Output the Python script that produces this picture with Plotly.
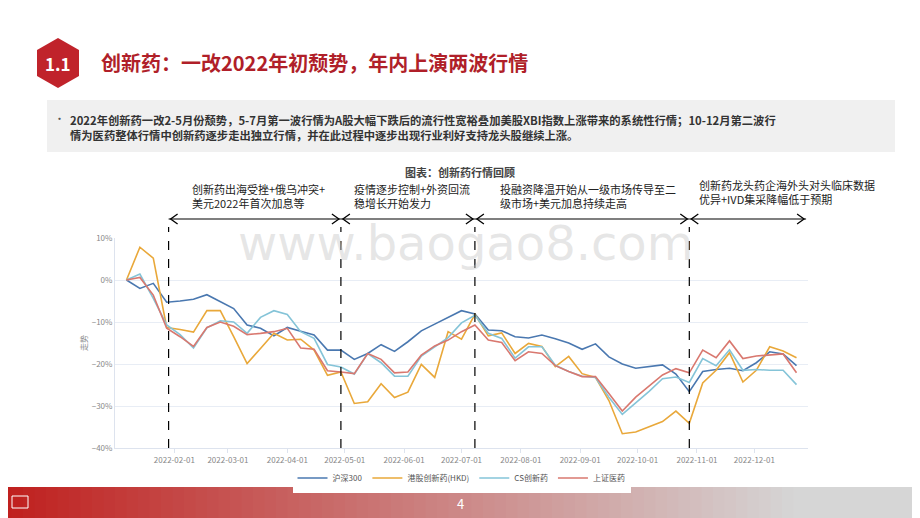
import plotly.graph_objects as go
import pandas as pd

dates = pd.date_range("2022-01-07", periods=51, freq="7D")
hs300 = [0,-2,-0.8,-5.3,-5,-4.6,-3.5,-5.2,-6.8,-10.7,-11.5,-13.3,-11.3,-12.2,-13.1,-16.7,-16.7,-18.9,-17.5,-15.4,-17,-14.7,-12.1,-10.5,-8.9,-7.3,
         -8.1,-11.9,-12.1,-13.5,-13.8,-13.1,-14,-15,-16.5,-15.2,-18.3,-20,-21,-20.6,-20.2,-22.4,-26.6,-21.8,-21.3,-21,-21.6,-19.7,-17.1,-17.6,-20.4]
hk_inno = [0,7.8,5.2,-11.3,-11.8,-12.4,-7.3,-7.3,-13.5,-19.9,-16.3,-12.7,-14.3,-14.1,-16.7,-22.7,-21.9,-29.4,-29,-24.7,-28,-26.7,-20.1,-23.2,-12.3,-14.1,
           -8.2,-13.3,-12.6,-17.5,-15.1,-15.8,-20.6,-18.2,-22.3,-23.2,-28.7,-36.6,-36.2,-35,-33.7,-31.2,-34.1,-24.5,-21.5,-17.3,-24.3,-21.5,-15.9,-16.9,-18.5]
cs_inno = [0,1.4,-4.4,-10.7,-13,-16.2,-11.4,-9.7,-10,-12.7,-8.9,-7.3,-8.2,-12.3,-13.9,-20.1,-20.7,-22.4,-17.5,-19.7,-22.9,-22.9,-18.1,-15.8,-13.7,-10.2,
           -8.4,-12.7,-13.9,-18.6,-15.9,-15.9,-20.3,-21.8,-22.9,-23.2,-27.9,-32,-29.3,-26.5,-23.5,-23.1,-24.4,-18.7,-20.4,-16.6,-21.5,-21.3,-21.5,-21.5,-24.9]
sh_med = [0,0.6,-3.6,-11.5,-13.5,-15.8,-11.3,-10,-11,-13,-12.7,-12.3,-11.5,-16.2,-16.5,-21.6,-21.9,-22.3,-17.5,-18.9,-22.1,-21.9,-17.9,-15.7,-14.3,-12.3,
          -10.7,-14.3,-14.9,-19.2,-17.1,-17.5,-20.4,-21.8,-23,-23,-27,-31.2,-27.9,-25.2,-22.6,-21.1,-22.1,-16.7,-18.5,-14.5,-18.7,-18.1,-17.9,-17.6,-22.1]
names = ["沪深300", "港股创新药(HKD)", "CS创新药", "上证医药"]
colors = ["#4a78b0", "#e9a83a", "#85c4d8", "#d9786f"]
event_dates = ["2022-01-29", "2022-04-29", "2022-07-08", "2022-10-28"]
event_texts = ["创新药出海受挫+俄乌冲突+<br>美元2022年首次加息等",
               "疫情逐步控制+外资回流<br>稳增长开始发力",
               "投融资降温开始从一级市场传导至二<br>级市场+美元加息持续走高",
               "创新药龙头药企海外头对头临床数据<br>优异+IVD集采降幅低于预期"]
event_text_x = [190, 352, 498, 697]
event_text_y = [196, 196, 196, 192]

OFF = 8  # page body offset
L, R, T, B = 115, 808, 238, 448
def xp(px): return (px - L) / (R - L)
def yp(py): return (B - py) / (B - T)

FONT = "Noto Sans CJK SC"
fig = go.Figure()
for n, s, c in zip(names, [hs300, hk_inno, cs_inno, sh_med], colors):
    fig.add_trace(go.Scatter(x=dates, y=s, name=n, mode="lines", line=dict(color=c, width=1.6)))

shapes = []
for d in event_dates:
    shapes.append(dict(type="line", xref="x", yref="paper", x0=d, x1=d, y0=0, y1=yp(227),
                       line=dict(color="black", width=1.2, dash="dash")))
bounds = event_dates + ["2022-12-28"]
AY = yp(219)
for a, b in zip(bounds[:-1], bounds[1:]):
    shapes.append(dict(type="line", xref="x", yref="paper", x0=a, x1=b, y0=AY, y1=AY,
                       line=dict(color="black", width=1.2)))
    shapes.append(dict(type="path", xref="x", yref="paper", xsizemode="pixel", ysizemode="pixel",
                       xanchor=a, yanchor=AY, path="M 9,5 L 2,0 L 9,-5", line=dict(color="black", width=1.3)))
    shapes.append(dict(type="path", xref="x", yref="paper", xsizemode="pixel", ysizemode="pixel",
                       xanchor=b, yanchor=AY, path="M -9,5 L -2,0 L -9,-5", line=dict(color="black", width=1.3)))
hx = [(58, 38), (79, 50), (79, 76), (58, 88), (37, 76), (37, 50)]
path = "M " + " L ".join(f"{xp(a)},{yp(b)}" for a, b in hx) + " Z"
shapes.append(dict(type="path", xref="paper", yref="paper", path=path, fillcolor="#c0232b", line=dict(width=0)))
shapes.append(dict(type="rect", xref="paper", yref="paper", x0=xp(47), x1=xp(895), y0=yp(100), y1=yp(152),
                   fillcolor="#f0f0f0", line=dict(width=0), layer="below"))
N = 80
c0, c1 = (192, 32, 30), (214, 214, 214)
for i in range(N):
    t = i / (N - 1)
    col = "rgb(%d,%d,%d)" % tuple(int(c0[k] + (c1[k] - c0[k]) * min(1, t * 1.15)) for k in range(3))
    shapes.append(dict(type="rect", xref="paper", yref="paper", x0=xp(920 * i / N), x1=xp(920 * (i + 1) / N + 1),
                       y0=yp(520), y1=yp(487), fillcolor=col, line=dict(width=0)))
shapes.append(dict(type="rect", xref="paper", yref="paper", x0=xp(12), x1=xp(28), y0=yp(508), y1=yp(496),
                   fillcolor="rgba(0,0,0,0)", line=dict(color="white", width=1)))

ann = []
def txt(px, py, text, size, color, xanchor="left", **kw):
    ann.append(dict(x=xp(px), y=yp(py), xref="paper", yref="paper", xanchor=xanchor, yanchor="middle",
                    align="left", text=text, showarrow=False, font=dict(family=FONT, size=size, color=color), **kw))

txt(58, 63, "<b>1.1</b>", 17, "white", xanchor="center")
txt(99, 62, "<b>创新药：一改2022年初颓势，年内上演两波行情</b>", 20, "#b01f29")
txt(52, 118, "•", 11, "#555")
txt(68, 127, "<b>2022年创新药一改2-5月份颓势，5-7月第一波行情为A股大幅下跌后的流行性宽裕叠加美股XBI指数上涨带来的系统性行情；10-12月第二波行<br>情为医药整体行情中创新药逐步走出独立行情，并在此过程中逐步出现行业利好支持龙头股继续上涨。</b>", 11.3, "#333")
txt(460, 172, "<b>图表：创新药行情回顾</b>", 11, "#444", xanchor="center")
for t, px, py in zip(event_texts, event_text_x, event_text_y):
    txt(px, py, t, 11, "#222")
txt(465, 243, "www.baogao8.com", 48, "rgba(200,200,200,0.45)", xanchor="center")
ann[-1]["font"]["family"] = "DejaVu Sans"
txt(83, 343, "走势", 8, "#888", xanchor="center", textangle=-90)
txt(460, 503, "4", 13, "white", xanchor="center")

fig.update_layout(
    width=920, height=518, margin=dict(l=L - OFF, r=920 - R + OFF, t=T - OFF, b=518 - B + OFF),
    paper_bgcolor="white", plot_bgcolor="white",
    font=dict(family=FONT, size=8, color="#888"),
    shapes=shapes, annotations=ann,
    legend=dict(orientation="h", x=0.5, xanchor="center", y=yp(478), yanchor="middle",
                font=dict(family=FONT, size=8, color="#555"), itemwidth=30),
    xaxis=dict(range=["2022-01-01", "2022-12-29"], tickvals=pd.date_range("2022-02-01", periods=11, freq="MS"),
               tickformat="%Y-%m-%d", showgrid=False, showline=True, linecolor="#dde3ee",
               ticks="outside", tickcolor="#dde3ee", ticklen=4, tickfont=dict(size=8, color="#888")),
    yaxis=dict(range=[-40, 10], dtick=10, ticksuffix="%", gridcolor="#e8edf5", zeroline=False,
               showline=True, linecolor="#dde3ee", tickfont=dict(size=8, color="#888")),
)
fig.write_html("out.html")
